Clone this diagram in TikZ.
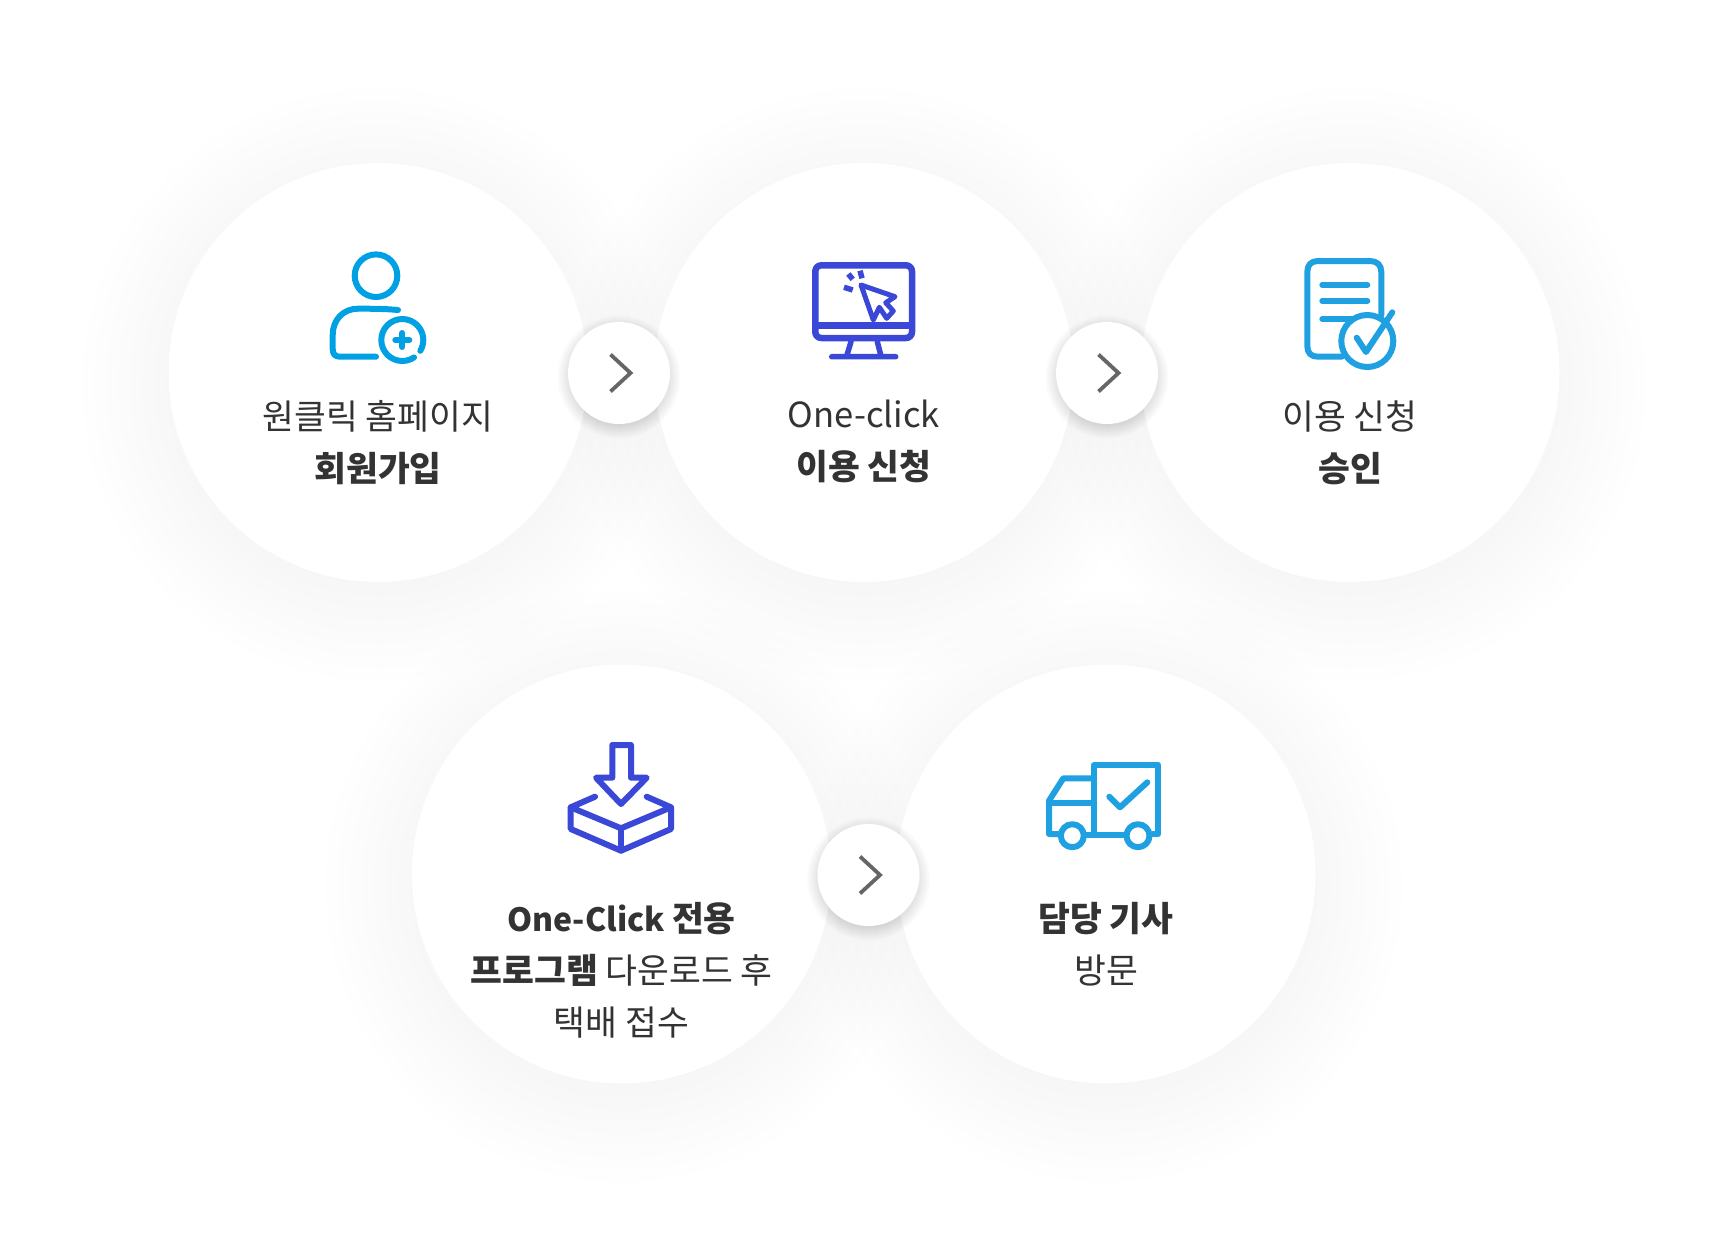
\documentclass[tikz,border=0pt]{standalone}
\usepackage{fontspec}
\setmainfont{Noto Sans CJK KR}
\usepackage{tikz}
\definecolor{skyblue}{HTML}{00A0E4}
\definecolor{docblue}{HTML}{1FA0E1}
\definecolor{indigoline}{HTML}{3B47D6}
\definecolor{labelgray}{HTML}{333333}
\definecolor{chevrongray}{HTML}{666666}
\tikzset{
  stepdisc/.style={circle,fill=white,minimum size=419pt,inner sep=0pt},
  nextdisc/.style={circle,fill=white,minimum size=102pt,inner sep=0pt},
  softshadow/.style={black,opacity=.004},
  nextshadow/.style={black,opacity=.01},
  icon/.style={line width=6pt,line cap=round,line join=round},
  chevron/.style={draw=chevrongray,line width=3.8pt},
  steptext/.style={align=center,text=labelgray,font=\fontsize{34.6}{52}\selectfont,inner sep=0pt}
}
\begin{document}
\begin{tikzpicture}[x=1pt,y=-1pt]
  \useasboundingbox (0,0) rectangle (1728,1258);
  \fill[white] (0,0) rectangle (1728,1258);
  %big soft shadows first
  \foreach \cx/\cy in {378/372.5,864/372.5,1350/372.5,621.5/874,1106/874}{
    \foreach \k in {0,...,8}{
      \fill[softshadow] (\cx,\cy+12) circle ({200+\k*12});
    }
  }
  \node[stepdisc] (join) at (378,372.5) {};
  \node[stepdisc] (apply) at (864,372.5) {};
  \node[stepdisc] (approve) at (1350,372.5) {};
  \node[stepdisc] (program) at (621.5,874) {};
  \node[stepdisc] (driver) at (1106,874) {};
  %small discs with the chevrons
  \foreach \nm/\cx/\cy in {nexta/619/373,nextb/1107/373,nextc/868.5/875}{
    \foreach \k in {0,...,12}{
      \fill[nextshadow] (\cx,\cy+4) circle ({46+\k*1.3});
    }
    \node[nextdisc] (\nm) at (\cx,\cy) {};
    \draw[chevron] (\cx-8.5,\cy-18.5) -- (\cx+11.5,\cy) -- (\cx-8.5,\cy+18.5);
  }
  %labels
  \node[steptext] (joinlabel) at (378,443) {원클릭 홈페이지\\{\bfseries 회원가입}};
  \node[steptext] (applylabel) at (864,441) {One-click\\{\bfseries 이용 신청}};
  \node[steptext] (approvelabel) at (1350,443) {이용 신청\\{\bfseries 승인}};
  \node[steptext] (programlabel) at (621.5,970) {{\bfseries\fontsize{32}{52}\selectfont One-Click \fontsize{34.6}{52}\selectfont 전용}\\{\bfseries 프로그램} 다운로드 후\\택배 접수};
  \node[steptext] (driverlabel) at (1106,944) {{\bfseries 담당 기사}\\방문};
  %person icon
  \draw[icon,draw=skyblue] (376,275.7) circle (21.3);
  \draw[icon,draw=skyblue] (398,310) .. controls (385,308.7) and (370,308.7) .. (358,308.7)
    .. controls (343,308.7) and (332.7,320) .. (332.7,335) -- (332.7,349)
    .. controls (332.7,354) and (335,356.7) .. (340,356.7) -- (376,356.7);
  \draw[icon,draw=skyblue] (402.3,340) ++(56:21) arc[start angle=56,end angle=391,radius=21];
  \draw[icon,draw=skyblue] (395.3,340) -- (409.3,340) (402.3,333) -- (402.3,347);
  %monitor icon
  \draw[icon,draw=indigoline,line width=6.5pt,rounded corners=6pt] (815.3,265.3) rectangle (912,338);
  \draw[icon,draw=indigoline,line width=6.5pt,line cap=butt] (815.3,325.3) -- (912,325.3);
  \draw[icon,draw=indigoline,line width=5.5pt] (851,341.7) -- (846.7,356) (877.3,341.7) -- (881,356)
    (831.7,356.7) -- (895.7,356.7);
  \draw[icon,draw=indigoline,line width=5pt] (861,285) -- (895,296.7) -- (885.7,302.7) -- (893.3,311)
    -- (886.7,318.3) -- (879.3,307.3) -- (873.3,320) -- cycle;
  \draw[icon,draw=indigoline,line width=5.5pt,line cap=butt] (848.3,274) -- (852.7,279.3)
    (860,270.7) -- (862,278.3) (844,287.3) -- (852.7,290);
  %document icon
  \draw[icon,draw=docblue] (1381.3,315) -- (1381.3,272) .. controls (1381.3,265) and (1377,261) .. (1370,261)
    -- (1318,261) .. controls (1311,261) and (1307.3,265) .. (1307.3,272) -- (1307.3,346)
    .. controls (1307.3,353) and (1311,356.7) .. (1318,356.7) -- (1341.7,356.7);
  \draw[icon,draw=docblue] (1322.3,285) -- (1367.3,285) (1322.3,301) -- (1367.3,301) (1322.3,319) -- (1351.7,319);
  \draw[icon,draw=docblue] (1367.3,341) circle (26);
  \draw[icon,draw=docblue] (1356.7,337.7) -- (1366,352) -- (1392.3,312.3);
  %box icon
  \draw[icon,draw=indigoline] (612.3,777.7) -- (612.3,745) -- (631,745) -- (631,777.7) -- (646.7,777.7)
    -- (621,804) -- (596,777.7) -- cycle;
  \draw[icon,draw=indigoline] (595,796.7) -- (570.7,807.3) -- (621,828.3) -- (671,807.3) -- (646.7,796.7);
  \draw[icon,draw=indigoline] (570.7,807.3) -- (570.7,829) -- (621,850.7) -- (671,829) -- (671,807.3);
  \draw[icon,draw=indigoline] (621,828.3) -- (621,850.7);
  %truck icon
  \draw[icon,draw=docblue] (1094.3,834) -- (1094.3,765) -- (1158.3,765) -- (1158.3,834) -- (1153,834);
  \draw[icon,draw=docblue] (1085,835) -- (1126,835);
  \draw[icon,draw=docblue] (1094.3,778.3) -- (1063.3,778.3) -- (1049,800.7) -- (1049,834) -- (1060,834);
  \draw[icon,draw=docblue] (1049,803.3) -- (1094.3,803.3);
  \draw[icon,draw=docblue] (1072.3,835.7) circle (11.5) (1138,835.7) circle (11.5);
  \draw[icon,draw=docblue] (1109.3,796.7) -- (1120,807.3) -- (1147.3,782.3);
\end{tikzpicture}
\end{document}
